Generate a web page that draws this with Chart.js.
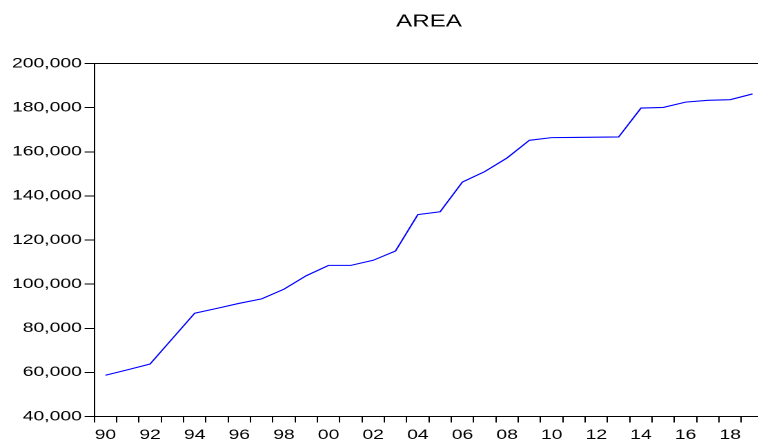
<!DOCTYPE html>
<html>
<head>
<meta charset="utf-8">
<script src="https://cdn.jsdelivr.net/npm/chart.js@4/dist/chart.umd.min.js"></script>
<style>
  html, body { margin: 0; padding: 0; background: #ffffff; overflow: hidden; }
  #wrap { width: 758px; height: 443px; overflow: hidden; position: relative; background: #fff; }
  #c { position: absolute; left: 0; top: 0; transform-origin: 0 0; transform: scaleX(1.38); }
</style>
</head>
<body>
<div id="wrap"><canvas id="c" width="556" height="443" style="width:556px;height:443px"></canvas></div>
<script>
// ---- data ----
const years = [1990,1991,1992,1993,1994,1995,1996,1997,1998,1999,
               2000,2001,2002,2003,2004,2005,2006,2007,2008,2009,
               2010,2011,2012,2013,2014,2015,2016,2017,2018,2019];
const tickLabels = ['90','','92','','94','','96','','98','',
                    '00','','02','','04','','06','','08','',
                    '10','','12','','14','','16','','18',''];
const area = [58700, 61200, 63800, 75300, 86800, 89000, 91300, 93300, 97700, 103800,
              108500, 108500, 110800, 115000, 131500, 132800, 146300, 151000, 157200, 165200,
              166400, 166500, 166600, 166700, 179800, 180100, 182500, 183300, 183600, 186200];
const yTicks = [40000, 60000, 80000, 100000, 120000, 140000, 160000, 180000, 200000];
const title = 'AREA';

const FONT = "'Liberation Sans', Arial, sans-serif";

// top edge of the graph frame (left and bottom are the axis lines)
const frame = {
  id: 'frame',
  afterDatasetsDraw(chart) {
    const a = chart.chartArea, ctx = chart.ctx;
    ctx.save();
    ctx.strokeStyle = '#000';
    ctx.lineWidth = 1;
    ctx.beginPath();
    ctx.moveTo(a.left, a.top);
    ctx.lineTo(a.right, a.top);
    ctx.stroke();
    ctx.restore();
  }
};

new Chart(document.getElementById('c'), {
  type: 'line',
  data: {
    labels: years,
    datasets: [{
      data: area,
      borderColor: 'rgb(0,0,255)',
      borderWidth: 1.1,
      pointRadius: 0,
      tension: 0,
      fill: false
    }]
  },
  options: {
    responsive: false,
    maintainAspectRatio: false,
    animation: false,
    devicePixelRatio: 2,
    layout: { padding: { left: 0, right: 2.6, top: 0, bottom: 0 } },
    plugins: {
      legend: { display: false },
      tooltip: { enabled: false },
      title: {
        display: true,
        text: title,
        fullSize: false,
        color: '#000',
        font: { family: FONT, size: 17.5, weight: 'normal' },
        padding: { top: 11, bottom: 31.5 }
      }
    },
    scales: {
      x: {
        type: 'category',
        offset: true,
        grid: { display: true, offset: true, drawOnChartArea: false, drawTicks: true, tickLength: 6, color: '#000', lineWidth: 1 },
        border: { display: true, color: '#000', width: 1 },
        ticks: {
          autoSkip: false,
          maxRotation: 0,
          minRotation: 0,
          padding: 4,
          color: '#000',
          font: { family: FONT, size: 14 },
          callback: (v, i) => tickLabels[i]
        },
        afterFit: s => { s.height = 26.5; }
      },
      y: {
        min: yTicks[0],
        max: yTicks[yTicks.length - 1],
        afterBuildTicks: s => { s.ticks = yTicks.map(v => ({ value: v })); },
        grid: { display: true, drawOnChartArea: false, drawTicks: true, tickLength: 7, color: '#000', lineWidth: 1 },
        border: { display: true, color: '#000', width: 1 },
        ticks: {
          autoSkip: false,
          padding: 2,
          color: '#000',
          font: { family: FONT, size: 14 },
          callback: v => Number(v).toLocaleString('en-US')
        },
        afterFit: s => { s.width = 68.3; }
      }
    }
  },
  plugins: [frame]
});
</script>
</body>
</html>
